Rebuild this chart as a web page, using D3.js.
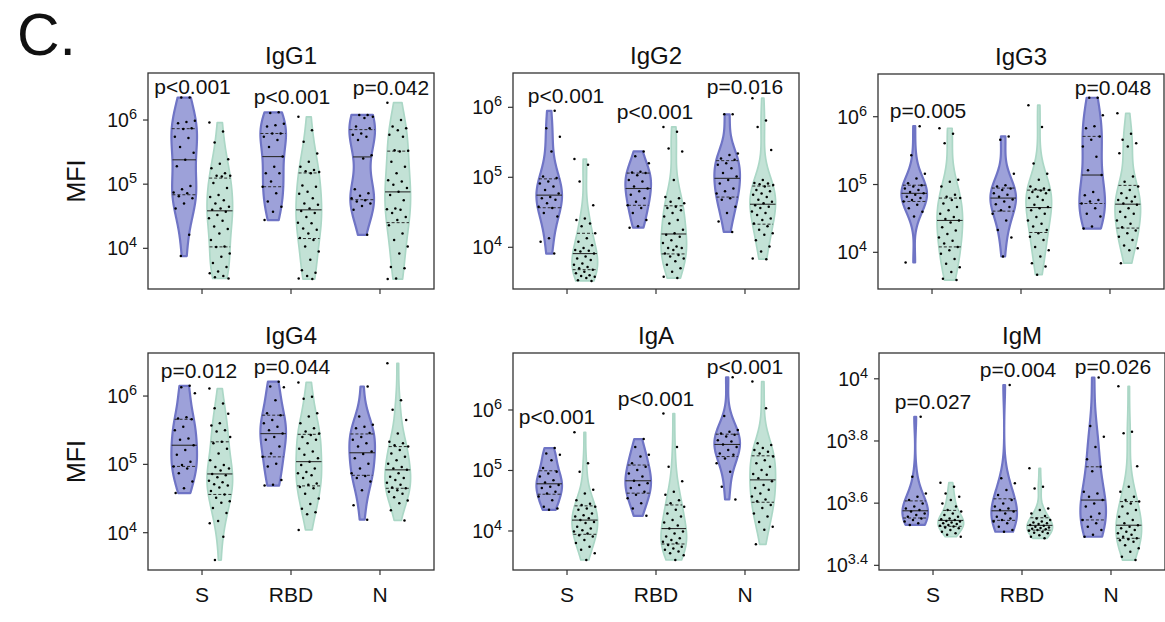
<!DOCTYPE html>
<html><head><meta charset="utf-8">
<script src="https://cdn.jsdelivr.net/npm/d3@7"></script>
<style>
body{margin:0;background:#fff}
text{font-family:"Liberation Sans",Arial,Helvetica,sans-serif;fill:#111}
</style>
</head><body>
<svg id="chart" width="1165" height="622"></svg>
<script>
// ---------------- DATA (values are log10 of MFI, one per dot) ----------------
const categories = ["S", "RBD", "N"];
const panelTitles = ["IgG1", "IgG2", "IgG3", "IgG4", "IgA", "IgM"];

// group 1 = purple violins, group 2 = green violins; each: [S, RBD, N]
const IgG1_g1 = [
  [6.35,6.35,5.99,5.97,5.95,5.87,5.86,5.74,5.72,5.58,5.49,5.38,5.28,4.97,4.92,4.87,4.86,4.81,4.78,4.70,4.62,4.21,3.88],
  [6.12,6.11,5.94,5.92,5.90,5.79,5.79,5.74,5.69,5.58,5.43,5.27,5.17,5.17,5.04,4.96,4.86,4.73,4.65,4.57,4.44],
  [6.08,6.08,6.05,6.03,5.90,5.87,5.79,5.77,5.74,5.69,5.45,5.40,4.92,4.86,4.82,4.78,4.75,4.73,4.70,4.66,4.60,4.21]
];
const IgG1_g2 = [
  [5.96,5.82,5.65,5.39,5.32,5.25,5.17,5.13,5.13,5.12,5.02,4.94,4.83,4.80,4.75,4.70,4.65,4.62,4.60,4.57,4.52,4.47,4.43,4.34,4.30,4.23,4.13,4.03,4.02,3.92,3.87,3.77,3.71,3.64,3.61,3.57,3.55,3.53],
  [6.05,5.84,5.66,5.48,5.35,5.27,5.22,5.20,5.19,5.17,4.98,4.96,4.88,4.85,4.78,4.70,4.68,4.62,4.58,4.55,4.49,4.40,4.39,4.31,4.29,4.23,4.16,4.13,4.03,3.95,3.82,3.66,3.62,3.57,3.53,3.52],
  [6.27,6.00,5.90,5.87,5.84,5.77,5.74,5.53,5.52,5.51,5.35,5.27,5.17,5.06,5.04,4.99,4.94,4.88,4.83,4.75,4.62,4.61,4.60,4.55,4.49,4.44,4.36,4.23,4.13,4.03,3.92,3.71,3.69,3.53,3.52]
];
const IgG2_g1 = [
  [5.95,5.70,5.58,5.37,5.01,4.99,4.94,4.91,4.87,4.82,4.77,4.72,4.70,4.68,4.63,4.58,4.56,4.49,4.44,4.13,4.08,3.91],
  [5.37,5.30,5.20,5.08,5.07,5.06,5.03,4.96,4.94,4.87,4.84,4.80,4.75,4.70,4.65,4.60,4.56,4.49,4.39,4.30,4.28],
  [5.90,5.90,5.34,5.32,5.27,5.25,5.20,5.18,5.13,5.06,5.01,4.96,4.91,4.84,4.80,4.77,4.70,4.68,4.58,4.49,4.37,4.22]
];
const IgG2_g2 = [
  [5.26,5.18,4.94,4.60,4.41,4.39,4.34,4.30,4.20,4.13,4.08,4.03,3.99,3.96,3.95,3.94,3.91,3.87,3.84,3.82,3.77,3.75,3.72,3.70,3.68,3.65,3.63,3.60,3.59,3.58,3.56,3.53,3.52],
  [5.72,5.65,5.41,5.37,4.96,4.72,4.70,4.65,4.63,4.58,4.56,4.53,4.49,4.44,4.39,4.34,4.25,4.20,4.18,4.15,4.10,4.06,4.01,3.99,3.99,3.96,3.91,3.89,3.87,3.84,3.80,3.75,3.70,3.65,3.58,3.56],
  [6.13,5.81,5.72,5.39,4.96,4.92,4.91,4.90,4.89,4.87,4.82,4.80,4.77,4.75,4.72,4.68,4.65,4.63,4.60,4.58,4.56,4.51,4.49,4.46,4.41,4.39,4.34,4.30,4.25,4.20,4.18,4.10,4.01,3.94,3.84,3.83]
];
const IgG3_g1 = [
  [5.86,5.43,5.16,5.09,5.02,4.99,4.97,4.94,4.92,4.89,4.87,4.85,4.82,4.80,4.77,4.75,4.70,4.65,4.60,4.53,3.85],
  [5.71,5.66,5.16,4.99,4.97,4.94,4.92,4.87,4.85,4.82,4.78,4.75,4.71,4.67,4.62,4.57,4.47,4.33,4.22,3.94],
  [6.28,6.28,6.02,5.86,5.83,5.71,5.66,5.56,5.41,5.21,5.14,4.89,4.84,4.77,4.75,4.72,4.65,4.57,4.53,4.38,4.35]
];
const IgG3_g2 = [
  [5.83,5.75,5.61,5.07,5.04,4.97,4.85,4.82,4.80,4.77,4.72,4.67,4.62,4.57,4.52,4.49,4.47,4.44,4.37,4.32,4.27,4.22,4.17,4.13,4.08,4.03,3.98,3.90,3.83,3.78,3.71,3.61,3.59],
  [6.17,5.85,5.31,5.16,5.07,4.97,4.94,4.93,4.92,4.91,4.89,4.87,4.82,4.80,4.77,4.70,4.67,4.65,4.62,4.57,4.52,4.47,4.42,4.38,4.33,4.28,4.23,4.18,4.08,4.03,3.94,3.84,3.79,3.67],
  [6.05,5.75,5.66,5.61,5.56,5.46,5.12,5.04,4.97,4.92,4.87,4.82,4.80,4.77,4.75,4.72,4.70,4.65,4.60,4.57,4.52,4.47,4.42,4.37,4.32,4.28,4.23,4.18,4.10,4.06,4.03,3.84]
];
const IgG4_g1 = [
  [6.15,6.13,6.04,5.69,5.67,5.66,5.55,5.50,5.38,5.36,5.28,5.21,5.14,5.04,4.99,4.97,4.94,4.87,4.75,4.65,4.58],
  [6.21,6.14,6.13,5.94,5.75,5.72,5.65,5.60,5.55,5.50,5.45,5.40,5.36,5.26,5.16,5.11,5.01,4.97,4.77,4.70,4.69],
  [6.14,5.70,5.58,5.55,5.53,5.46,5.40,5.36,5.31,5.26,5.19,5.15,5.09,5.01,4.94,4.87,4.83,4.80,4.75,4.62,4.40,4.19]
];
const IgG4_g2 = [
  [6.11,5.89,5.82,5.74,5.60,5.57,5.50,5.48,5.40,5.33,5.31,5.23,5.16,5.06,4.99,4.96,4.94,4.91,4.86,4.84,4.81,4.76,4.74,4.71,4.69,4.66,4.61,4.56,4.51,4.46,4.44,4.36,4.29,4.17,4.14,3.94,3.60],
  [6.20,5.99,5.96,5.75,5.70,5.60,5.53,5.48,5.45,5.43,5.40,5.36,5.31,5.23,5.19,5.14,5.09,5.04,4.99,4.94,4.89,4.87,4.84,4.80,4.72,4.70,4.67,4.65,4.57,4.50,4.42,4.35,4.30,4.27,4.04],
  [6.48,5.94,5.80,5.65,5.45,5.33,5.31,5.28,5.26,5.21,5.16,5.11,5.06,5.01,4.96,4.94,4.92,4.87,4.82,4.80,4.77,4.73,4.70,4.66,4.65,4.62,4.60,4.57,4.52,4.47,4.43,4.33,4.18]
];
const IgA_g1 = [
  [5.37,5.28,5.26,5.17,5.04,4.98,4.95,4.90,4.84,4.80,4.76,4.73,4.71,4.65,4.62,4.57,4.51,4.40,4.37,4.35],
  [5.52,5.39,5.26,5.23,5.12,5.06,5.01,4.95,4.90,4.83,4.79,4.76,4.71,4.65,4.60,4.54,4.46,4.37,4.25],
  [6.54,5.90,5.67,5.64,5.61,5.59,5.56,5.50,5.48,5.43,5.39,5.34,5.28,5.26,5.20,5.12,4.98,4.73,4.52]
];
const IgA_g2 = [
  [5.63,5.12,4.98,4.68,4.62,4.51,4.45,4.43,4.40,4.37,4.35,4.29,4.26,4.24,4.21,4.18,4.15,4.13,4.07,4.04,4.01,3.99,3.96,3.93,3.91,3.85,3.80,3.74,3.69,3.63,3.52],
  [5.94,5.39,5.06,4.82,4.65,4.60,4.51,4.46,4.40,4.35,4.29,4.24,4.18,4.14,4.09,4.04,3.99,3.96,3.91,3.88,3.85,3.82,3.80,3.77,3.74,3.71,3.69,3.66,3.63,3.60,3.52],
  [6.47,6.03,5.45,5.42,5.37,5.34,5.31,5.28,5.23,5.17,5.12,5.06,5.01,4.94,4.93,4.87,4.82,4.76,4.71,4.68,4.62,4.57,4.52,4.49,4.43,4.38,4.29,4.24,4.15,4.07,4.02,3.78]
];
const IgM_g1 = [
  [3.878,3.685,3.631,3.621,3.610,3.599,3.589,3.583,3.578,3.573,3.567,3.562,3.556,3.551,3.546,3.541,3.535,3.530],
  [3.980,3.680,3.664,3.642,3.626,3.610,3.599,3.589,3.583,3.578,3.573,3.567,3.556,3.551,3.546,3.541,3.535,3.524,3.514,3.508],
  [4.004,3.848,3.814,3.781,3.741,3.717,3.703,3.637,3.631,3.621,3.610,3.599,3.589,3.567,3.556,3.546,3.535,3.524,3.514,3.498,3.492]
];
const IgM_g2 = [
  [3.666,3.653,3.631,3.621,3.610,3.599,3.589,3.578,3.573,3.567,3.562,3.556,3.551,3.548,3.546,3.543,3.541,3.538,3.535,3.533,3.530,3.527,3.525,3.522,3.519,3.514,3.508,3.503,3.498,3.492],
  [3.712,3.653,3.647,3.583,3.578,3.567,3.559,3.551,3.546,3.541,3.538,3.535,3.533,3.530,3.527,3.524,3.522,3.520,3.518,3.516,3.514,3.511,3.508,3.505,3.503,3.497,3.492,3.487],
  [3.976,3.830,3.825,3.719,3.653,3.637,3.621,3.610,3.605,3.599,3.589,3.578,3.567,3.556,3.546,3.535,3.529,3.524,3.519,3.514,3.508,3.503,3.498,3.492,3.487,3.484,3.481,3.476,3.465,3.455,3.444,3.428,3.417]
];

// p-value labels per category (S, RBD, N); "" = none
const IgG1_p = ["p<0.001", "p<0.001", "p=0.042"];
const IgG2_p = ["p<0.001", "p<0.001", "p=0.016"];
const IgG3_p = ["p=0.005", "", "p=0.048"];
const IgG4_p = ["p=0.012", "p=0.044", ""];
const IgA_p  = ["p<0.001", "p<0.001", "p<0.001"];
const IgM_p  = ["p=0.027", "p=0.004", "p=0.026"];

// y tick exponents (log10)
const ticksIgG = [4, 5, 6];
const ticksIgM = [3.4, 3.6, 3.8, 4];

// axis limits as log10 exponents
const yLimIgG1 = [3.366, 6.733];
const yLimIgG2 = [3.404, 6.490];
const yLimIgG3 = [3.459, 6.630];
const yLimIgG4 = [3.454, 6.630];
const yLimIgA  = [3.355, 6.942];
const yLimIgM  = [3.385, 4.083];

// ---------------- LAYOUT / STYLE ----------------
const layout = [
  {left:148, top:73,  bottom:289, pdx:[-9.5, 1, 11]},
  {left:513, top:73,  bottom:289, pdx:[-1, -1, 0]},
  {left:878, top:74,  bottom:289, pdx:[-4, 0, 3]},
  {left:148, top:353, bottom:570, pdx:[-3, 1, 0]},
  {left:513, top:353, bottom:570, pdx:[-10, 0, 0]},
  {left:879, top:353, bottom:570, pdx:[0, -4, 2]}
];
const PW = 286;
const style = {
  g1: {fill:"#9da1d9", stroke:"#6f74c5", sw:2.2},
  g2: {fill:"#c3e2d6", stroke:"#abd7c6", sw:1.7}
};
const HALF_W = 12.8, DODGE = 17.8, JITTER = 11;

const panels = [
  {title:panelTitles[0], g1:IgG1_g1, g2:IgG1_g2, p:IgG1_p, ticks:ticksIgG, lim:yLimIgG1},
  {title:panelTitles[1], g1:IgG2_g1, g2:IgG2_g2, p:IgG2_p, ticks:ticksIgG, lim:yLimIgG2},
  {title:panelTitles[2], g1:IgG3_g1, g2:IgG3_g2, p:IgG3_p, ticks:ticksIgG, lim:yLimIgG3},
  {title:panelTitles[3], g1:IgG4_g1, g2:IgG4_g2, p:IgG4_p, ticks:ticksIgG, lim:yLimIgG4},
  {title:panelTitles[4], g1:IgA_g1,  g2:IgA_g2,  p:IgA_p,  ticks:ticksIgG, lim:yLimIgA},
  {title:panelTitles[5], g1:IgM_g1,  g2:IgM_g2,  p:IgM_p,  ticks:ticksIgM, lim:yLimIgM}
];

const svg = d3.select("#chart");

svg.append("text").attr("x", 17).attr("y", 55).style("font-size", "59px").text("C.");

function kdeFactory(vals) {
  const n = vals.length;
  const sd = d3.deviation(vals);
  const bw = sd * Math.pow(n, -0.2);
  return t => d3.sum(vals, v => Math.exp(-0.5 * ((t - v) / bw) ** 2));
}

panels.forEach((P, pi) => {
  const L = layout[pi];
  const g = svg.append("g");
  const x = d3.scalePoint().domain(categories).range([L.left, L.left + PW]).padding(0.607);
  const y = d3.scaleLog().domain([10 ** P.lim[0], 10 ** P.lim[1]]).range([L.bottom, L.top]);

  const violins = [];
  categories.forEach((c, ci) => {
    [["g1", -DODGE], ["g2", DODGE]].forEach(([grp, off]) => {
      const vals = P[grp][ci];
      const sorted = vals.slice().sort(d3.ascending);
      const k = kdeFactory(vals);
      const lo = sorted[0], hi = sorted[sorted.length - 1];
      const grid = d3.range(0, 121).map(i => lo + (hi - lo) * i / 120);
      const dens = grid.map(k);
      const maxD = d3.max(dens);
      violins.push({cx: x(c) + off, grp, vals, sorted, k, maxD,
        pts: grid.map((t, i) => ({t, w: dens[i] / maxD * HALF_W}))});
    });
  });

  // violin bodies
  const area = d3.area().curve(d3.curveLinear)
    .y(d => y(10 ** d.t));
  violins.forEach(v => {
    const s = style[v.grp];
    g.append("path")
      .datum(v.pts)
      .attr("d", area.x0(d => v.cx - d.w).x1(d => v.cx + d.w))
      .attr("fill", s.fill)
      .attr("stroke", s.stroke)
      .attr("stroke-width", s.sw)
      .attr("stroke-linejoin", "round");
  });

  // quartile lines
  violins.forEach(v => {
    [0.25, 0.5, 0.75].forEach(q => {
      const t = d3.quantile(v.sorted, q);
      const w = v.k(t) / v.maxD * HALF_W;
      g.append("line")
        .attr("x1", v.cx - w).attr("x2", v.cx + w)
        .attr("y1", y(10 ** t)).attr("y2", y(10 ** t))
        .attr("stroke", "#2b2b2b")
        .attr("stroke-width", q === 0.5 ? 1.1 : 1)
        .attr("stroke-dasharray", q === 0.5 ? null : "3,2");
    });
  });

  // dots
  violins.forEach(v => {
    v.vals.forEach((t, i) => {
      const frac = ((i + 1) * 0.6180339887 + (v.grp === "g1" ? 0.13 : 0.41)) % 1;
      g.append("circle")
        .attr("cx", v.cx + (frac - 0.5) * 2 * JITTER)
        .attr("cy", y(10 ** t))
        .attr("r", 1.25)
        .attr("fill", "#000");
    });
  });

  // frame
  g.append("rect")
    .attr("x", L.left).attr("y", L.top)
    .attr("width", PW).attr("height", L.bottom - L.top)
    .attr("fill", "none").attr("stroke", "#333").attr("stroke-width", 1.3);

  // y ticks
  P.ticks.forEach(e => {
    const yy = y(10 ** e);
    g.append("line").attr("x1", L.left - 5).attr("x2", L.left)
      .attr("y1", yy).attr("y2", yy).attr("stroke", "#333").attr("stroke-width", 1.2);
    const t = g.append("text").attr("x", L.left - 11).attr("y", yy + 7)
      .attr("text-anchor", "end").style("font-size", "19.5px");
    t.append("tspan").text("10");
    t.append("tspan").attr("dy", -8).style("font-size", "14.5px").text(String(e));
  });

  // x ticks
  categories.forEach((c, ci) => {
    g.append("line").attr("x1", x(c)).attr("x2", x(c))
      .attr("y1", L.bottom).attr("y2", L.bottom + 5)
      .attr("stroke", "#333").attr("stroke-width", 1.2);
    if (pi >= 3) {
      g.append("text").attr("x", x(c)).attr("y", 602)
        .attr("text-anchor", "middle").style("font-size", "21px").text(c);
    }
  });

  // p-values
  P.p.forEach((lab, ci) => {
    if (!lab) return;
    const top = d3.max([P.g1[ci], P.g2[ci]].flat());
    const yy = Math.max(y(10 ** top) - 8, L.top + 21);
    g.append("text").attr("x", x(categories[ci]) + L.pdx[ci]).attr("y", yy)
      .attr("text-anchor", "middle").style("font-size", "21px").text(lab);
  });

  // title
  g.append("text").attr("x", L.left + PW / 2).attr("y", L.top - 9)
    .attr("text-anchor", "middle").style("font-size", "24px").text(P.title);

  // y label
  if (pi % 3 === 0) {
    g.append("text")
      .attr("transform", `translate(85,${(L.top + L.bottom) / 2}) rotate(-90)`)
      .attr("text-anchor", "middle").style("font-size", "25px").text("MFI");
  }
});
</script>
</body></html>
